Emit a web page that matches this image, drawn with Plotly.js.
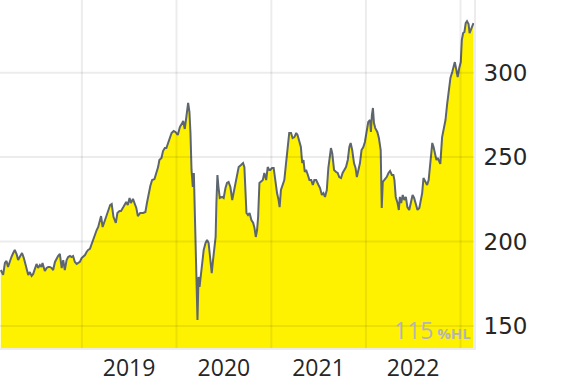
<!DOCTYPE html>
<html>
<head>
<meta charset="utf-8">
<script src="https://cdn.plot.ly/plotly-3.0.1.min.js"></script>
<style>html,body{margin:0;padding:0;background:#fff;}#chart{width:570px;height:382px;}</style>
</head>
<body>
<div id="chart"></div>
<script>
const dates = [
'2018-02-22','2018-03-03','2018-03-10','2018-03-16','2018-03-22','2018-03-29','2018-04-04','2018-04-11','2018-04-17','2018-04-24','2018-04-30','2018-05-06','2018-05-15','2018-05-22','2018-05-30','2018-06-08','2018-06-14','2018-06-21','2018-06-27','2018-07-03','2018-07-10','2018-07-16','2018-07-23','2018-07-29','2018-08-02','2018-08-11','2018-08-18','2018-08-24','2018-08-30','2018-09-06','2018-09-12','2018-09-19','2018-09-25','2018-10-01','2018-10-08','2018-10-15','2018-10-21','2018-10-27','2018-11-03','2018-11-09','2018-11-16','2018-11-22','2018-11-28','2018-12-05','2018-12-12','2018-12-18','2018-12-24','2018-12-31',
'2019-01-06','2019-01-13','2019-01-19','2019-01-25','2019-02-01','2019-02-08','2019-02-14','2019-02-20','2019-02-27','2019-03-05','2019-03-12','2019-03-16','2019-03-22','2019-03-31','2019-04-07','2019-04-13','2019-04-20','2019-04-26','2019-05-03','2019-05-12','2019-05-18','2019-05-26','2019-06-01','2019-06-10','2019-06-21','2019-06-27','2019-07-04','2019-07-09','2019-07-17','2019-07-23','2019-07-30','2019-08-05','2019-08-14','2019-08-25','2019-09-03','2019-09-09','2019-09-15','2019-09-22','2019-09-29','2019-10-08','2019-10-15','2019-10-22','2019-10-27','2019-11-04','2019-11-10','2019-11-17','2019-11-23','2019-11-30','2019-12-06','2019-12-13','2019-12-21','2019-12-28',
'2020-01-06','2020-01-14','2020-01-23','2020-01-27','2020-02-02','2020-02-09','2020-02-15','2020-02-20','2020-02-24','2020-02-28','2020-03-04','2020-03-08','2020-03-11','2020-03-15','2020-03-18','2020-03-22','2020-03-26','2020-03-30','2020-04-02','2020-04-09','2020-04-15','2020-04-22','2020-04-28','2020-05-04','2020-05-11','2020-05-16','2020-05-21','2020-05-26','2020-05-31','2020-06-03','2020-06-07','2020-06-11','2020-06-16','2020-06-25','2020-07-01','2020-07-08','2020-07-14','2020-07-20','2020-07-27','2020-08-03','2020-08-09','2020-08-15','2020-08-22','2020-08-28','2020-09-06','2020-09-14','2020-09-19','2020-09-23','2020-09-27','2020-10-03','2020-10-09','2020-10-16','2020-10-23','2020-10-28','2020-11-02','2020-11-07','2020-11-11','2020-11-16','2020-11-22','2020-11-29','2020-12-05','2020-12-12','2020-12-18','2020-12-24','2020-12-28',
'2021-01-04','2021-01-10','2021-01-16','2021-01-23','2021-01-29','2021-02-02','2021-02-07','2021-02-15','2021-02-20','2021-02-26','2021-03-05','2021-03-11','2021-03-18','2021-03-24','2021-03-31','2021-04-07','2021-04-12','2021-04-19','2021-04-25','2021-04-30','2021-05-05','2021-05-10','2021-05-15','2021-05-22','2021-05-28','2021-06-04','2021-06-10','2021-06-16','2021-06-23','2021-07-02','2021-07-08','2021-07-15','2021-07-21','2021-07-27','2021-08-03','2021-08-09','2021-08-16','2021-08-19','2021-08-24','2021-08-31','2021-09-08','2021-09-14','2021-09-20','2021-09-27','2021-10-03','2021-10-10','2021-10-16','2021-10-23','2021-10-29','2021-11-03','2021-11-09','2021-11-16','2021-11-22','2021-11-27','2021-12-02','2021-12-09','2021-12-15','2021-12-22','2021-12-28',
'2022-01-04','2022-01-10','2022-01-17','2022-01-20','2022-01-24','2022-01-28','2022-02-01','2022-02-06','2022-02-14','2022-02-20','2022-02-27','2022-03-03','2022-03-07','2022-03-13','2022-03-22','2022-03-29','2022-04-04','2022-04-11','2022-04-17','2022-04-21','2022-04-26','2022-05-03','2022-05-08','2022-05-12','2022-05-17','2022-05-23','2022-05-29','2022-06-04','2022-06-10','2022-06-17','2022-06-24','2022-06-30','2022-07-06','2022-07-13','2022-07-19','2022-07-26','2022-08-01','2022-08-06','2022-08-11','2022-08-18','2022-08-25','2022-08-31','2022-09-04','2022-09-10','2022-09-14','2022-09-19','2022-09-25','2022-09-30','2022-10-05','2022-10-11','2022-10-15','2022-10-22','2022-10-28','2022-11-04','2022-11-10','2022-11-17','2022-11-23','2022-11-30','2022-12-06','2022-12-10','2022-12-16','2022-12-21','2022-12-27',
'2023-01-02','2023-01-06','2023-01-11','2023-01-16','2023-01-21','2023-01-26','2023-02-01','2023-02-05','2023-02-10','2023-02-15','2023-02-20'
];
const prices = [
183.1,180.2,187.3,188.5,184.9,189.0,190.8,193.2,195.0,192.6,189.0,190.8,193.2,190.2,184.9,180.2,181.9,179.6,180.8,183.1,186.7,184.3,186.1,184.9,187.3,182.5,184.3,184.9,184.9,184.3,183.1,187.9,190.2,191.4,192.6,184.3,189.0,183.1,189.0,190.8,191.4,190.8,191.4,187.9,186.7,187.3,187.9,190.2,
190.8,192.0,193.8,195.0,195.6,198.5,200.9,204.5,206.8,208.6,212.2,215.1,208.6,212.7,214.5,217.5,221.6,222.2,214.5,211.0,216.9,218.1,218.1,220.4,223.4,221.6,225.8,222.8,225.2,222.8,219.9,215.1,216.9,216.9,217.5,222.8,228.7,232.9,236.4,237.0,240.6,244.1,248.3,249.5,253.6,255.4,255.4,258.4,260.1,264.3,265.5,264.9,
263.1,267.8,270.2,271.4,266.7,274.9,282.1,276.7,264.3,242.4,232.3,240.6,222.8,195.0,171.3,153.5,179.0,173.1,177.2,187.3,195.0,199.1,200.9,199.1,189.0,181.3,189.0,195.0,202.7,222.8,239.4,232.3,225.8,226.4,225.8,231.7,234.7,235.3,232.3,224.6,229.3,233.5,237.6,244.1,245.3,246.5,244.1,230.5,216.9,215.7,216.9,212.7,211.0,208.0,202.7,206.8,214.5,234.7,235.3,236.4,240.6,236.4,244.1,242.4,242.4,
243.6,243.6,235.3,228.7,224.6,220.4,230.5,233.5,236.4,245.3,258.4,264.3,264.3,261.3,261.9,264.3,263.1,259.0,256.0,246.5,248.3,241.2,242.4,239.4,236.4,236.4,233.5,236.4,236.4,233.5,231.7,227.6,228.7,226.4,230.5,243.6,253.0,255.4,252.4,242.4,241.2,240.6,238.2,237.6,240.6,242.4,244.1,248.3,256.0,258.4,254.2,246.5,243.6,238.2,242.4,246.5,254.2,256.0,259.0,
266.1,270.8,272.0,264.9,274.9,279.1,270.2,267.2,264.9,261.3,254.2,219.9,235.3,236.4,238.2,240.6,241.8,239.4,239.4,236.4,226.4,222.8,218.7,226.4,222.8,227.6,224.6,226.4,220.4,218.7,223.4,227.6,225.8,221.6,218.7,219.9,224.6,228.7,237.6,235.3,233.5,236.4,244.1,253.0,258.4,256.0,251.2,248.3,249.5,246.5,246.0,261.9,267.8,272.0,280.9,289.8,296.9,300.4,303.4,306.3,301.6,297.5,302.8,
306.3,319.4,323.5,324.1,329.4,330.6,328.9,323.5,325.3,327.1,329.4
];
const yTicks = [150, 200, 250, 300];
const yearStarts = ['2019-01-01','2020-01-01','2021-01-01','2022-01-01','2023-01-01'];
const yearMids = ['2019-07-02','2020-07-02','2021-07-02','2022-07-02'];
const yearLabels = ['2019','2020','2021','2022'];
const rangeLabel = '115';
const rangeUnit = '%HL';

const gridColor = 'rgba(0,0,0,0.075)';
const shapes = [];
yTicks.forEach(v => shapes.push({type:'line', xref:'paper', x0:0, x1:1, yref:'y', y0:v, y1:v,
  line:{color:gridColor, width:2}, layer:'above'}));
yearStarts.forEach(d => shapes.push({type:'line', xref:'x', x0:d, x1:d, yref:'paper', y0:0, y1:1,
  line:{color:gridColor, width:2}, layer:'above'}));

const trace = {
  x: dates, y: prices, type:'scatter', mode:'lines',
  line:{color:'#5d666e', width:2},
  fill:'tozeroy', fillcolor:'#fff200',
  hoverinfo:'skip'
};

const layout = {
  width:570, height:382,
  margin:{l:0, r:96, t:0, b:34},
  paper_bgcolor:'#ffffff', plot_bgcolor:'#ffffff',
  showlegend:false,
  xaxis:{
    type:'date', range:['2018-02-19','2023-02-22'],
    showgrid:false, zeroline:false,
    tickmode:'array', tickvals:yearMids, ticktext:yearLabels,
    ticks:'', tickfont:{family:'"Open Sans", sans-serif', size:23, color:'#262626'},
    ticklabelstandoff:-2,
    showline:true, linecolor:'#ececec', linewidth:2
  },
  yaxis:{
    side:'right', range:[136.9, 343.1],
    showgrid:false, zeroline:false,
    tickmode:'array', tickvals:yTicks,
    ticks:'', tickfont:{family:'"DejaVu Sans", sans-serif', size:23, color:'#262626'},
    ticklabelstandoff:3,
    showline:true, linecolor:'#ececec', linewidth:2
  },
  shapes: shapes,
  annotations:[{
    xref:'paper', yref:'paper', x:1, y:0, xanchor:'right', yanchor:'bottom',
    xshift:-1, yshift:0, showarrow:false,
    text: rangeLabel + '<span style="font-size:15px"><b> ' + rangeUnit + '</b></span>',
    font:{family:'"Open Sans", sans-serif', size:23, color:'#b4b4b4'}
  }]
};
Plotly.newPlot('chart', [trace], layout, {displayModeBar:false, staticPlot:true});
</script>
</body>
</html>
